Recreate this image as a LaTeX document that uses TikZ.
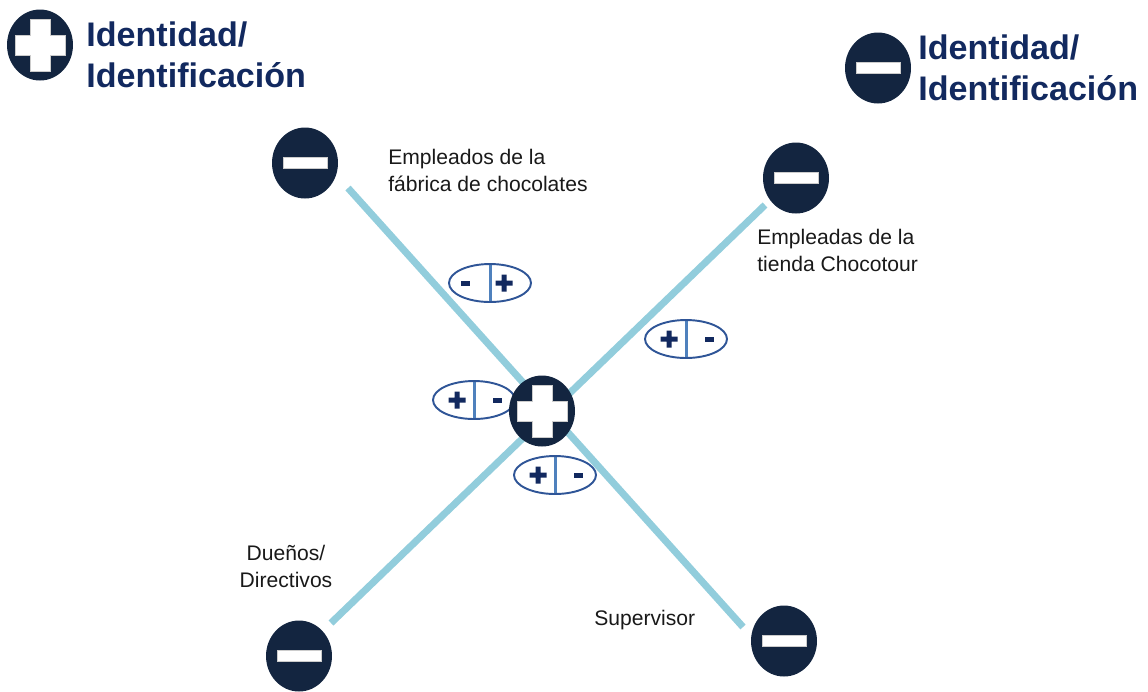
\documentclass[tikz,border=0pt]{standalone}
\usepackage{fontspec}
\setmainfont{Liberation Sans}
\usetikzlibrary{shapes.geometric}
\definecolor{navy}{RGB}{19,37,64}
\definecolor{titleblue}{RGB}{18,41,95}
\definecolor{spokeblue}{RGB}{146,205,220}
\definecolor{rimblue}{RGB}{47,85,151}
\definecolor{barblue}{RGB}{79,129,189}
\newcommand\whiteplus{\filldraw[fill=white, draw=black!20, line width=0.3pt]
  (path picture bounding box.center) ++(-0.5cm,0.2cm) -- ++(0.3cm,0) -- ++(0,0.32cm)
  -- ++(0.4cm,0) -- ++(0,-0.32cm) -- ++(0.3cm,0) -- ++(0,-0.4cm) -- ++(-0.3cm,0)
  -- ++(0,-0.32cm) -- ++(-0.4cm,0) -- ++(0,0.32cm) -- ++(-0.3cm,0) -- cycle;}
\newcommand\whiteminus{\filldraw[fill=white, draw=black!20, line width=0.3pt]
  ([shift={(-0.44cm,-0.11cm)}]path picture bounding box.center) rectangle
  ([shift={(0.44cm,0.11cm)}]path picture bounding box.center);}
\newcommand\badgebar{\draw[barblue, line width=1.7pt]
  (path picture bounding box.north) -- (path picture bounding box.south);}
\newcommand\badgeplus[1]{\fill[titleblue] ([xshift=#1]path picture bounding box.center)
  +(-0.17cm,-0.05cm) rectangle +(0.17cm,0.05cm) +(-0.05cm,-0.17cm) rectangle +(0.05cm,0.17cm);}
\newcommand\badgeminus[1]{\fill[titleblue] ([xshift=#1]path picture bounding box.center)
  +(-0.09cm,-0.05cm) rectangle +(0.09cm,0.05cm);}

\begin{document}
\begin{tikzpicture}[
  x=0.02cm, y=-0.02cm,
  font=\fontsize{12}{15.4}\selectfont,
  disc/.style={ellipse, fill=navy, inner sep=0pt, minimum width=1.32cm, minimum height=1.42cm},
  plusdisc/.style={disc, path picture={\whiteplus}},
  minusdisc/.style={disc, path picture={\whiteminus}},
  spoke/.style={draw=spokeblue, line width=4pt},
  badge/.style={ellipse, draw=rimblue, line width=1.1pt, fill=white, inner sep=0pt,
                minimum width=1.64cm, minimum height=0.76cm},
  pmbadge/.style={badge, path picture={\badgebar\badgeplus{-0.34cm}\badgeminus{0.46cm}}},
  mpbadge/.style={badge, path picture={\badgebar\badgeminus{-0.5cm}\badgeplus{0.28cm}}},
  legendtxt/.style={font=\fontsize{19.4}{23.3}\selectfont\bfseries, text=titleblue,
                    align=left, anchor=west, inner sep=0pt},
  roletxt/.style={align=left, anchor=west, inner sep=0pt, text=black!90}
]
\useasboundingbox (0,0) rectangle (1148,691);

\coordinate (f1) at (348,188);
\coordinate (s1) at (743,627);
\coordinate (d1) at (331,623);
\coordinate (t1) at (765,205);
\draw[spoke] (f1) -- (s1);
\draw[spoke] (d1) -- (t1);

\node[mpbadge] (fabricabadge) at (490,283) {};
\node[pmbadge] (tiendabadge)  at (686,339) {};
\node[pmbadge] (duenosbadge)  at (474,400) {};
\node[pmbadge] (supervbadge)  at (555,475) {};

\node[plusdisc]  (legplus)    at (40,45) {};
\node[minusdisc] (legminus)   at (878,68) {};
\node[minusdisc] (fabricadot) at (305,163) {};
\node[minusdisc] (tiendadot)  at (796,178) {};
\node[minusdisc] (duenosdot)  at (299,656) {};
\node[minusdisc] (supervdot)  at (784,641) {};
\node[plusdisc]  (hub)        at (542,411) {};

\node[legendtxt] (legplustxt)  at (86,55) {Identidad/\\Identificación};
\node[legendtxt] (legminustxt) at (918,68) {Identidad/\\Identificación};

\node[roletxt] (fabrica) at (388,170) {Empleados de la\\fábrica de chocolates};
\node[roletxt] (tienda)  at (757,250) {Empleadas de la\\tienda Chocotour};
\node[roletxt, align=center, anchor=center] (duenos) at (286,566) {Dueños/\\Directivos};
\node[roletxt] (superv)  at (594,620) {Supervisor};
\end{tikzpicture}
\end{document}
